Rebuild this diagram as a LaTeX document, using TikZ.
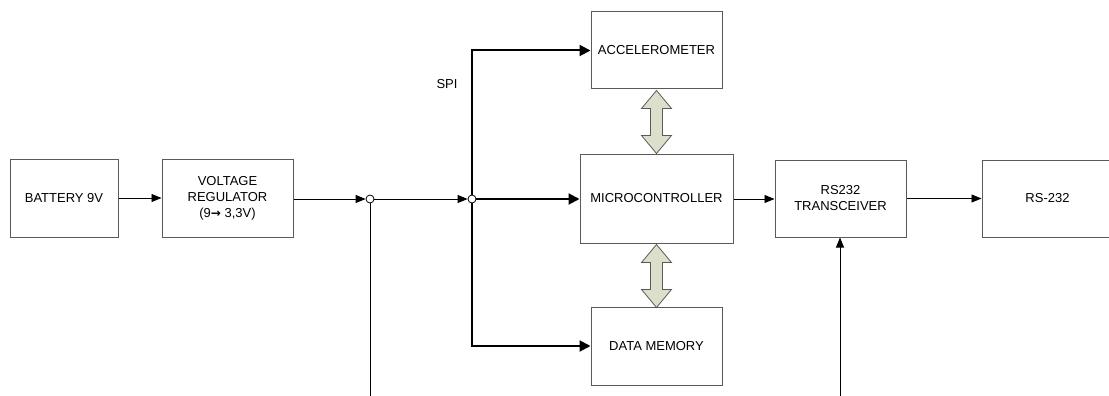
\documentclass[tikz,border=0pt]{standalone}
\usepackage{fontspec}
\setmainfont{Liberation Sans}
\newfontfamily\symfont{DejaVu Sans}
\usetikzlibrary{arrows.meta}
\definecolor{boxline}{HTML}{5A5A5A}
\definecolor{busfill}{HTML}{DCDFCA}
\tikzset{
  block/.style={draw=boxline, line width=1pt, fill=white, rectangle,
    inner sep=0pt, align=center, font=\fontsize{13}{16}\selectfont},
  junction/.style={circle, draw=black, fill=white, line width=0.8pt,
    minimum size=8pt, inner sep=0pt},
  wire/.style={draw=black, line width=0.9pt,
    -{Triangle[length=10pt,width=8pt]}},
  plainwire/.style={draw=black, line width=0.9pt},
  bus/.style={draw=black, line width=2pt,
    -{Triangle[length=11pt,width=11pt]}},
  plainbus/.style={draw=black, line width=2pt},
  dblarrow/.pic={
    \path[draw=boxline, fill=busfill, line width=0.8pt, line join=miter]
      (0,1) -- (-15,19) -- (-6,19) -- (-6,46) -- (-15,46) -- (0,64)
      -- (15,46) -- (6,46) -- (6,19) -- (15,19) -- cycle;
  }
}
\begin{document}
\begin{tikzpicture}[x=1pt, y=-1pt]
  \useasboundingbox (0,0) rectangle (1109,396);
  \clip (0,0) rectangle (1109,396);

  % functional blocks
  \node[block, minimum width=108pt, minimum height=78pt] (bat) at (64,198) {BATTERY 9V};
  \node[block, minimum width=131pt, minimum height=78pt] (reg) at (227.5,198)
    {VOLTAGE\\REGULATOR\\(9{\symfont\bfseries\fontsize{12}{16}\selectfont →} 3,3V)};
  \node[block, minimum width=131pt, minimum height=77pt] (acc) at (656.5,50.5) {ACCELEROMETER};
  \node[block, minimum width=153pt, minimum height=89pt] (mcu) at (656.5,198.5) {MICROCONTROLLER};
  \node[block, minimum width=131pt, minimum height=78pt] (mem) at (656.5,346) {DATA MEMORY};
  \node[block, minimum width=131pt, minimum height=77pt] (trx) at (840.5,198.5) {RS232\\TRANSCEIVER};
  \node[block, minimum width=131pt, minimum height=77pt] (rs) at (1047.5,198.5) {RS-232};

  % supply junctions
  \node[junction] (j1) at (370,199) {};
  \node[junction] (j2) at (472,199) {};
  \coordinate (j1end) at (370,396);
  \coordinate (trxin) at (840,396);

  \node[font=\fontsize{13}{16}\selectfont] (spi) at (447,84) {SPI};

  % power path
  \draw[wire] (bat.east) -- (bat.east -| reg.west);
  \draw[wire] (reg.east |- j1) -- (j1.west);
  \draw[wire] (j1.east) -- (j2.west);
  \draw[plainwire] (j1.south) -- (j1end);

  % SPI bus
  \draw[bus] (j2.east) -- (j2 -| mcu.west);
  \draw[bus] (j2.north) |- (acc.west);
  \draw[bus] (j2.south) |- (mem.west);

  % serial path
  \draw[wire] (mcu.east |- j2) -- (j2 -| trx.west);
  \draw[wire] (trx.east) -- (trx.east -| rs.west);
  \draw[wire] (trxin) -- (trxin |- trx.south);

  % data transfer between blocks
  \pic at (acc.south) {dblarrow};
  \pic at (mcu.south) {dblarrow};
\end{tikzpicture}
\end{document}
